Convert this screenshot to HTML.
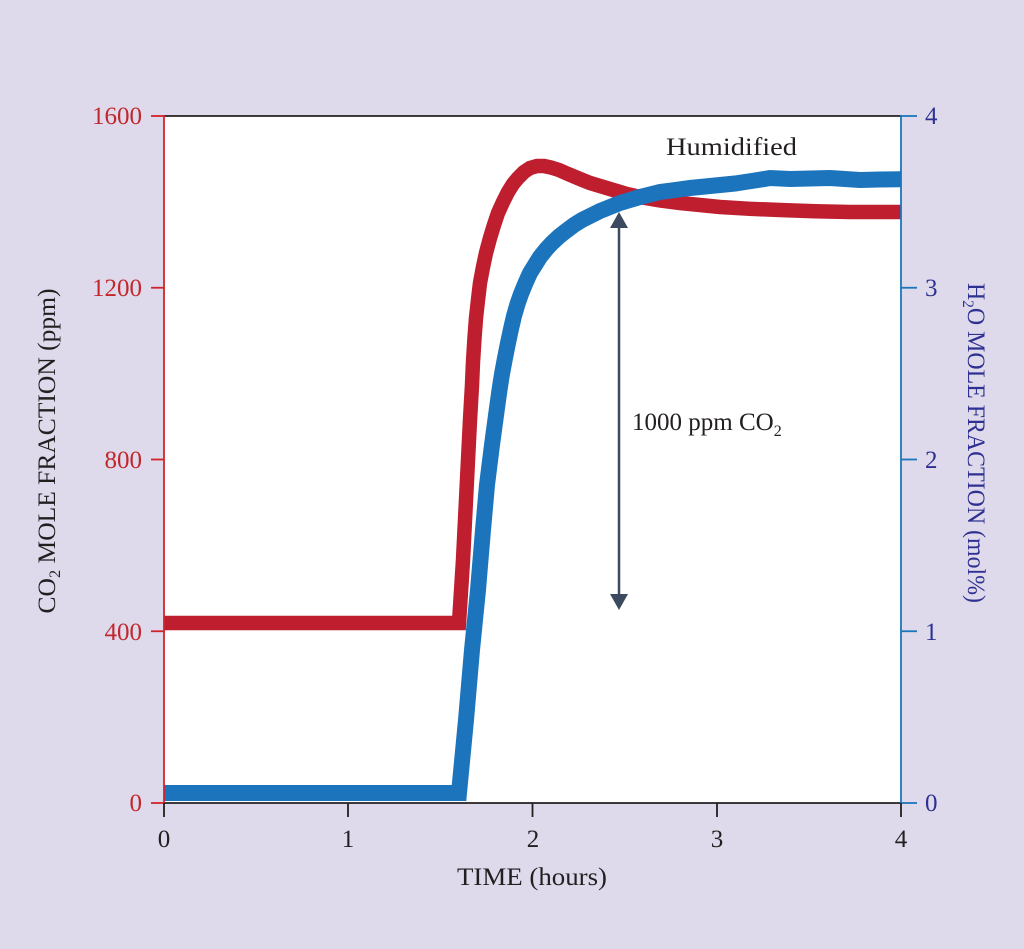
<!DOCTYPE html>
<html>
<head>
<meta charset="utf-8">
<style>
  html,body{margin:0;padding:0;background:#dfdaeb;}
  svg{display:block;}
  text{font-family:"Liberation Serif",serif;}
</style>
</head>
<body>
<svg width="1024" height="949" viewBox="0 0 1024 949" xmlns="http://www.w3.org/2000/svg">
  <defs>
    <clipPath id="plot">
      <rect x="164" y="116" width="737" height="687"/>
    </clipPath>
  </defs>
  <rect x="0" y="0" width="1024" height="949" fill="#dfdaeb"/>
  <rect x="164" y="116" width="737" height="687" fill="#ffffff"/>

  <g clip-path="url(#plot)">
    <polyline points="150,623 459,623 463,560 467,480 470,420 472,385 473,362 474.5,338 476,318 478,300 480,283 483,267 486,253 490,238 494,225 498,213 503,202 508,192 513,184 518,178 524,172 530,168 537,166 544,166 551,167.5 559,170 568,174 580,179 590,183 600,186 610,189 625,193.5 640,197 660,200.5 680,203 700,205 720,207 750,208.8 780,210 815,211.2 850,212 915,212"
          fill="none" stroke="#be1e2d" stroke-width="14.5" stroke-linejoin="miter" stroke-miterlimit="4"/>
    <polyline points="150,793 459,793 466,720 472,650 478,590 483,530 487,485 492,445 497,408 499.5,390 502,374 505,358 508,343 511,329 514,316 517.5,304 521,294 525.5,283 530,273 535,265 540,257 546,249.5 552,243 559,236.5 566,231 574,225 582,220 591,215.5 600,211 610,207 620,203 630,200 640,197 650,194.5 660,192 675,190 690,188 705,186.5 720,185 735,183.5 745,182 758,180 770,178 780,178.5 790,179 810,178.5 830,178 845,179 860,180 880,179.5 915,179"
          fill="none" stroke="#1c75bc" stroke-width="16" stroke-linejoin="miter" stroke-miterlimit="4"/>
  </g>

  <!-- Arrow -->
  <line x1="619" y1="224" x2="619" y2="598" stroke="#3c4a60" stroke-width="2.5"/>
  <polygon points="619,212 610,228 628,228" fill="#3c4a60"/>
  <polygon points="619,610 610,594 628,594" fill="#3c4a60"/>

  <!-- frame -->
  <line x1="164" y1="116" x2="901" y2="116" stroke="#000" stroke-width="1.5"/>
  <line x1="163" y1="803" x2="901" y2="803" stroke="#231f20" stroke-width="1.8"/>
  <line x1="164" y1="115" x2="164" y2="803" stroke="#d2232a" stroke-width="1.8"/>
  <line x1="901" y1="115" x2="901" y2="803" stroke="#1c75bc" stroke-width="1.8"/>

  <!-- left ticks -->
  <g stroke="#d2232a" stroke-width="1.8">
    <line x1="151" y1="803" x2="164" y2="803"/>
    <line x1="151" y1="631.25" x2="164" y2="631.25"/>
    <line x1="151" y1="459.5" x2="164" y2="459.5"/>
    <line x1="151" y1="287.75" x2="164" y2="287.75"/>
    <line x1="151" y1="116" x2="164" y2="116"/>
  </g>
  <g fill="#c1272d" font-size="25" text-anchor="end">
    <text x="142" y="811">0</text>
    <text x="142" y="640">400</text>
    <text x="142" y="468">800</text>
    <text x="142" y="296">1200</text>
    <text x="142" y="124">1600</text>
  </g>

  <!-- right ticks -->
  <g stroke="#1c75bc" stroke-width="1.8">
    <line x1="901" y1="803" x2="917" y2="803"/>
    <line x1="901" y1="631.25" x2="917" y2="631.25"/>
    <line x1="901" y1="459.5" x2="917" y2="459.5"/>
    <line x1="901" y1="287.75" x2="917" y2="287.75"/>
    <line x1="901" y1="116" x2="917" y2="116"/>
  </g>
  <g fill="#2e3192" font-size="25" text-anchor="start">
    <text x="925" y="811">0</text>
    <text x="925" y="640">1</text>
    <text x="925" y="468">2</text>
    <text x="925" y="296">3</text>
    <text x="925" y="124">4</text>
  </g>

  <!-- bottom ticks -->
  <g stroke="#231f20" stroke-width="1.8">
    <line x1="164" y1="803" x2="164" y2="817"/>
    <line x1="348" y1="803" x2="348" y2="817"/>
    <line x1="532.5" y1="803" x2="532.5" y2="817"/>
    <line x1="717" y1="803" x2="717" y2="817"/>
    <line x1="901" y1="803" x2="901" y2="817"/>
  </g>
  <g fill="#231f20" font-size="25" text-anchor="middle">
    <text x="164" y="847">0</text>
    <text x="348" y="847">1</text>
    <text x="533" y="847">2</text>
    <text x="717" y="847">3</text>
    <text x="901" y="847">4</text>
  </g>

  <!-- axis titles -->
  <text x="532" y="885" font-size="25" fill="#231f20" text-anchor="middle" textLength="150" lengthAdjust="spacingAndGlyphs">TIME (hours)</text>

  <text transform="translate(55,451) rotate(-90)" font-size="25" fill="#231f20" text-anchor="middle" textLength="325" lengthAdjust="spacingAndGlyphs">CO<tspan font-size="16" dy="5">2</tspan><tspan dy="-5"> MOLE FRACTION (ppm)</tspan></text>

  <text transform="translate(968,443) rotate(90)" font-size="25" fill="#2e3192" text-anchor="middle" textLength="320" lengthAdjust="spacingAndGlyphs">H<tspan font-size="16" dy="5">2</tspan><tspan dy="-5">O MOLE FRACTION (mol%)</tspan></text>

  <!-- annotations -->
  <text x="666" y="155" font-size="25" fill="#231f20" textLength="131" lengthAdjust="spacingAndGlyphs">Humidified</text>
  <text x="632" y="430" font-size="25" fill="#231f20">1000 ppm CO<tspan font-size="16" dy="6">2</tspan></text>
</svg>
</body>
</html>
